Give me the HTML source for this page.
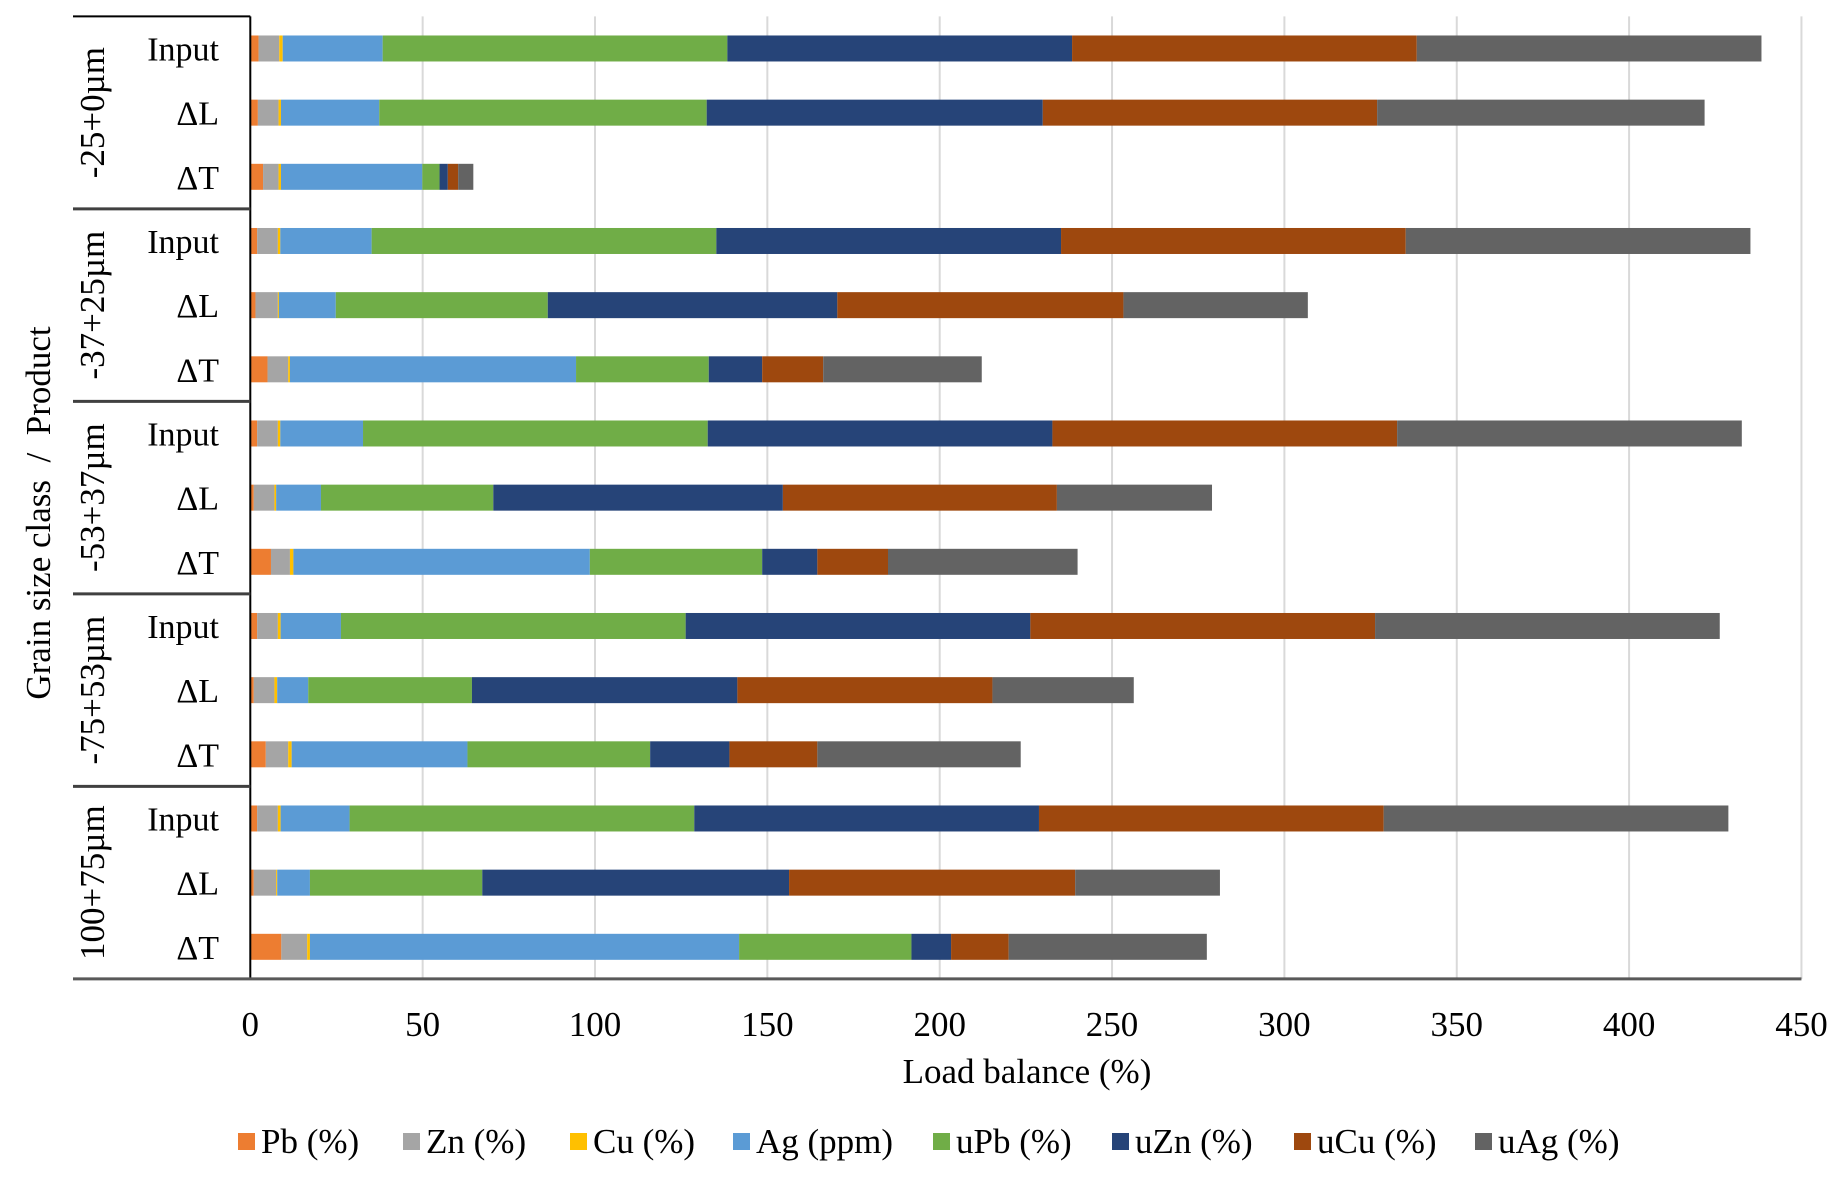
<!DOCTYPE html>
<html><head><meta charset="utf-8"><style>
html,body{margin:0;padding:0;background:#fff;}
svg{display:block;font-family:"Liberation Serif",serif;}
</style></head><body>
<svg id="chart" width="1840" height="1184" viewBox="0 0 1840 1184">
<g id="grid"></g><g id="bars"></g><g id="frame"></g><g id="labels"></g><g id="legend"></g>
</svg>
<script>
const groups = ["-25+0µm","-37+25µm","-53+37µm","-75+53µm","100+75µm"];
const products = ["Input","ΔL","ΔT"];
const seriesNames = ["Pb (%)","Zn (%)","Cu (%)","Ag (ppm)","uPb (%)","uZn (%)","uCu (%)","uAg (%)"];
const seriesColors = ["#ED7D31","#A5A5A5","#FFC000","#5B9BD5","#70AD47","#264478","#9E480E","#636363"];
const xTicks = [0,50,100,150,200,250,300,350,400,450];
// rows: group-major, product-minor; each row = values of 8 series
const pbVals  = [2.4,2.2,3.7, 2,1.5,5, 2,1,6, 2,1,4.5, 2,1,9];
const znVals  = [6,6,4.5, 6,6.5,6, 6,6,5.5, 6,6,6.5, 6,6.5,7.5];
const cuVals  = [1,0.7,0.7, 0.7,0.3,0.5, 0.7,0.5,1, 0.8,0.8,1, 0.8,0.3,0.8];
const agVals  = [29,28.5,41, 26.5,16.5,83, 24,13,86, 17.5,9,51, 20,9.5,124.5];
const upbVals = [100,95,5, 100,61.5,38.5, 100,50,50, 100,47.5,53, 100,50,50];
const uznVals = [100,97.5,2.4, 100,84,15.5, 100,84,16, 100,77,23, 100,89,11.5];
const ucuVals = [100,97,3, 100,83,17.7, 100,79.5,20.5, 100,74,25.5, 100,83,16.7];
const uagVals = [100,95,4.4, 100,53.5,46, 100,45,55, 100,41,59, 100,42,57.5];

const NS="http://www.w3.org/2000/svg";
const X0=250.3, PX=3.447, TOP=16.4, GH=192.5, LEFT=73, BOT=TOP+GH*5;
const xs = v => X0 + v*PX;
const rowY = i => TOP + GH*(i+0.5)/3;
function mk(tag, attrs, parent){const e=document.createElementNS(NS,tag);for(const k in attrs)e.setAttribute(k,attrs[k]);parent.appendChild(e);return e;}
const G=id=>document.getElementById(id);

xTicks.forEach(t=>{
  if(t>0){const l=mk('line',{x1:xs(t),x2:xs(t),y1:TOP,y2:BOT,stroke:'#d9d9d9','stroke-width':2},G('grid'));
  
  }
  const tx=mk('text',{x:xs(t),y:1036,'text-anchor':'middle','font-size':35,fill:'#000'},G('labels'));tx.textContent=t;
  
  
});

const all=[pbVals,znVals,cuVals,agVals,upbVals,uznVals,ucuVals,uagVals];
for(let r=0;r<15;r++){
  let acc=0; const cy=rowY(r);
  for(let s=0;s<8;s++){
    const v=all[s][r];
    const rc=mk('rect',{x:xs(acc),y:cy-13,width:Math.max(0,v*PX),height:26,fill:seriesColors[s]},G('bars'));
    
    
    acc+=v;
  }
  const lb=mk('text',{x:219,y:cy+12,'text-anchor':'end','font-size':34},G('labels'));lb.textContent=products[r%3];
  
  
}

// frame
mk('line',{x1:X0,x2:X0,y1:TOP,y2:BOT,stroke:'#000','stroke-width':2},G('frame'));
mk('line',{x1:LEFT,x2:X0,y1:TOP,y2:TOP,stroke:'#000','stroke-width':2},G('frame'));
for(let g=1;g<5;g++){mk('line',{x1:LEFT,x2:X0,y1:TOP+GH*g,y2:TOP+GH*g,stroke:'#404040','stroke-width':3},G('frame'));}
mk('line',{x1:LEFT,x2:xs(450),y1:BOT,y2:BOT,stroke:'#595959','stroke-width':3},G('frame'));

groups.forEach((g,i)=>{
  const cy=TOP+GH*(i+0.5);
  const t=mk('text',{x:0,y:0,'text-anchor':'middle','font-size':35,transform:`translate(104,${cy}) rotate(-90)`},G('labels'));t.textContent=g;
  
  
});
const yt=mk('text',{x:0,y:0,'text-anchor':'middle','font-size':35,'xml:space':'preserve',transform:'translate(50,513) rotate(-90)'},G('labels'));
yt.textContent='Grain size class  /  Product';
yt.setAttribute('style','white-space:pre');


const xt=mk('text',{x:1027,y:1083,'text-anchor':'middle','font-size':35},G('labels'));xt.textContent='Load balance (%)';



const legX=[238,403,570,733,933,1112,1294,1475];
seriesNames.forEach((n,i)=>{
  const g=mk('g',{},G('legend'));
  
  
  mk('rect',{x:legX[i],y:1133,width:17,height:17,fill:seriesColors[i]},g);
  const t=mk('text',{x:legX[i]+23,y:1153,'font-size':35},g);t.textContent=n;
});
</script>
</body></html>
